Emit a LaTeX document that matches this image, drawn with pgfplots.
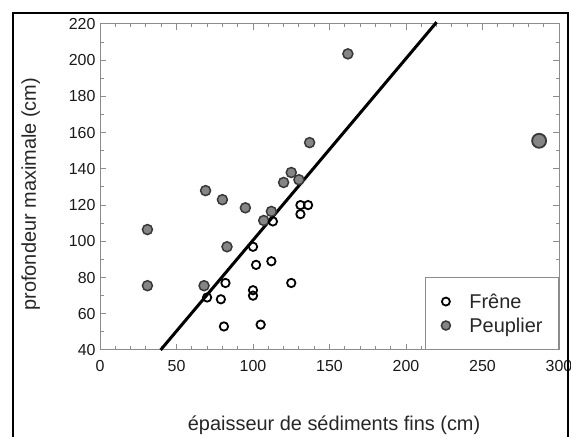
\documentclass[border=0pt]{standalone}
\usepackage{fontspec}
\setmainfont{Liberation Sans}
\usepackage{pgfplots}
\pgfplotsset{compat=1.18}
\definecolor{peuplier}{HTML}{858585}
\definecolor{contour}{HTML}{383838}
\definecolor{cadre}{HTML}{8C8C8C}

% Frêne: épaisseur de sédiments fins (cm), profondeur maximale (cm)
\pgfplotstableread{
x y
131 120
136 120
131 115
113 111
100 97
102 87
112 89
82 77
70 69
79 68
100 73
100 70
125 77
81 53
105 54
}\frene

% Peuplier
\pgfplotstableread{
x y
31 106.5
31 75.5
69 128
80 123
95 118.5
107 111.5
112 116.5
83 97
68 75.5
120 132.5
125 138
130 134
137 154.5
162 203.5
}\peupliertab

\begin{document}
\begin{tikzpicture}[x=1bp,y=1bp]
\useasboundingbox (0,0) rectangle (571,437);
\begin{axis}[
  at={(100bp,87bp)}, anchor=south west,
  width=459bp, height=326bp, scale only axis,
  xmin=0, xmax=300, ymin=40, ymax=220,
  xtick={0,50,...,300}, ytick={40,60,...,220},
  minor x tick num=4, minor y tick num=1,
  tick align=inside,
  major tick length=6bp, minor tick length=3.5bp,
  axis line style={cadre, line width=1bp},
  every tick/.style={cadre, line width=1bp},
  tick label style={font=\fontsize{16}{16}\selectfont, text=black!90},
  /pgf/number format/assume math mode=true,
  xticklabel style={yshift=-7bp},
  yticklabel style={xshift=-1bp},
  xlabel={épaisseur de sédiments fins (cm)},
  ylabel={profondeur maximale (cm)},
  xlabel style={at={(axis description cs:0.51,-0.23)}, anchor=center, font=\fontsize{20}{20}\selectfont, text=black!85},
  ylabel style={at={(axis description cs:-0.151,0.478)}, anchor=center, rotate=0, font=\fontsize{20}{20}\selectfont, text=black!85},
  clip=false,
  legend style={at={(1,0)}, anchor=south east, draw=cadre, line width=1bp,
    font=\fontsize{20}{20}\selectfont, text=black!85,
    nodes={inner sep=0bp},
    inner xsep=16bp, inner ysep=16bp, row sep=8bp, column sep=19bp},
  legend cell align=left,
  legend image code/.code={\draw[mark repeat=2, mark phase=2, #1]
    plot coordinates {(0bp,0bp) (6bp,0bp) (12bp,0bp)};},
]
\addlegendimage{only marks, mark=o, mark size=4bp, mark options={draw=black, line width=1.8bp}}
\addlegendimage{only marks, mark=*, mark size=4.5bp, mark options={fill=peuplier, draw=contour, line width=1.5bp}}
\legend{Frêne, Peuplier}

\addplot[forget plot, only marks, mark=*, mark size=5bp,
  mark options={fill=peuplier, draw=contour, line width=1.5bp}] table {\peupliertab};
\addplot[forget plot, only marks, mark=*, mark size=7bp,
  mark options={fill=peuplier, draw=contour, line width=1.8bp}] coordinates {(287,155.5)};
\addplot[forget plot, only marks, mark=o, mark size=4.2bp,
  mark options={draw=black, line width=1.8bp}] table {\frene};
% droite de tendance
\addplot[forget plot, black, line width=3bp] coordinates {(39.6,40) (220,221)};
\end{axis}
\draw[line width=2bp] (13.3,-5) -- (13.3,424.3) -- (568.3,424.3) -- (568.3,-5);
\end{tikzpicture}
\end{document}
